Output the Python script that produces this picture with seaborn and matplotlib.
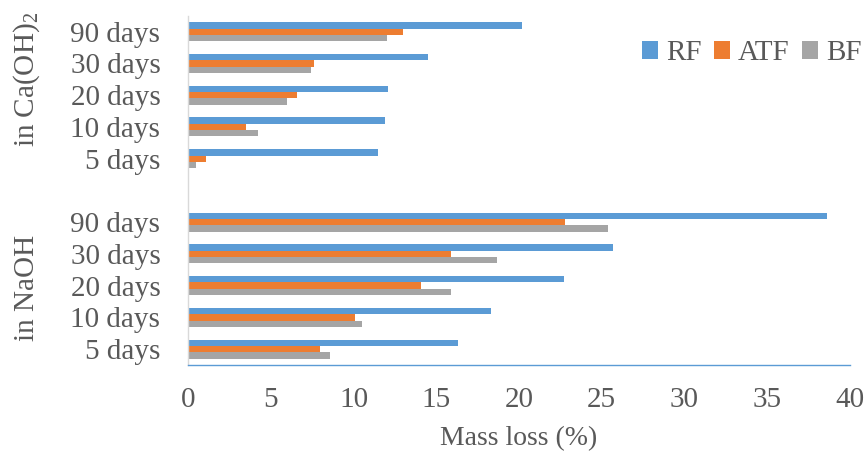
import numpy as np
import pandas as pd
import matplotlib
matplotlib.use("Agg")
import matplotlib.pyplot as plt
import seaborn as sns

# categories top-to-bottom, with a blank spacer between the two media
cat_keys = ["Ca 90", "Ca 30", "Ca 20", "Ca 10", "Ca 5", "gap",
            "Na 90", "Na 30", "Na 20", "Na 10", "Na 5"]
cat_labels = ["90 days", "30 days", "20 days", "10 days", "5 days", "",
              "90 days", "30 days", "20 days", "10 days", "5 days"]
fibers = ["RF", "ATF", "BF"]

# mass loss (%)
rf_ca = [20.2, 14.5, 12.1, 11.9, 11.5]
atf_ca = [13.0, 7.6, 6.6, 3.5, 1.1]
bf_ca = [12.0, 7.4, 6.0, 4.2, 0.5]
rf_na = [38.6, 25.7, 22.7, 18.3, 16.3]
atf_na = [22.8, 15.9, 14.1, 10.1, 8.0]
bf_na = [25.4, 18.7, 15.9, 10.5, 8.6]

colors = ["#5B9BD5", "#ED7D31", "#A5A5A5"]

ca_keys = cat_keys[:5]
na_keys = cat_keys[6:]
rows = []
for keys, series in [(ca_keys, [rf_ca, atf_ca, bf_ca]), (na_keys, [rf_na, atf_na, bf_na])]:
    for fib, vals in zip(fibers, series):
        for k, v in zip(keys, vals):
            rows.append({"cat": k, "fiber": fib, "loss": v})
df = pd.DataFrame(rows)

sns.set_style("white")
plt.rcParams["font.family"] = ["Liberation Serif", "DejaVu Serif"]
plt.rcParams["mathtext.fontset"] = "custom"
plt.rcParams["mathtext.rm"] = "Liberation Serif"
text_color = "#595959"
fs = 21

fig, ax = plt.subplots(figsize=(8.67, 4.54), dpi=100)
fig.subplots_adjust(left=0.217, right=0.980, top=0.965, bottom=0.196)

sns.barplot(data=df, y="cat", x="loss", hue="fiber", order=cat_keys,
            hue_order=fibers, palette=colors, orient="h", width=0.6,
            linewidth=0, saturation=1, ax=ax)

ax.set_xlim(0, 40)
ax.set_xticks(np.arange(0, 41, 5))
ax.set_yticks(range(len(cat_keys)))
ax.set_yticklabels(cat_labels)
ax.tick_params(axis="y", length=0, pad=20, labelsize=fs, labelcolor=text_color)
ax.tick_params(axis="x", direction="inout", length=7, width=1, color="#5B9BD5",
               labelsize=fs, labelcolor=text_color, pad=12)
ax.set_ylabel("")
ax.set_xlabel("Mass loss (%)", fontsize=20, color=text_color, labelpad=10)

for s in ["top", "right"]:
    ax.spines[s].set_visible(False)
ax.spines["left"].set_color("#D9D9D9")
ax.spines["left"].set_linewidth(1)
ax.spines["bottom"].set_color("#5B9BD5")
ax.spines["bottom"].set_linewidth(1)

handles, labels = ax.get_legend_handles_labels()
ax.legend(handles, labels, loc="center right", bbox_to_anchor=(0.994, 0.883),
          bbox_transform=fig.transFigure, ncol=3, frameon=False, fontsize=fs,
          handlelength=0.55, handleheight=0.55, handletextpad=0.28,
          columnspacing=0.42, borderaxespad=0, borderpad=0, labelcolor=text_color)

fig.text(0.031, 0.824, "in Ca(OH)$_2$", rotation=90, ha="center", va="center",
         fontsize=fs, color=text_color)
fig.text(0.031, 0.366, "in NaOH", rotation=90, ha="center", va="center",
         fontsize=fs, color=text_color)

fig.savefig("out.png", dpi=100)
